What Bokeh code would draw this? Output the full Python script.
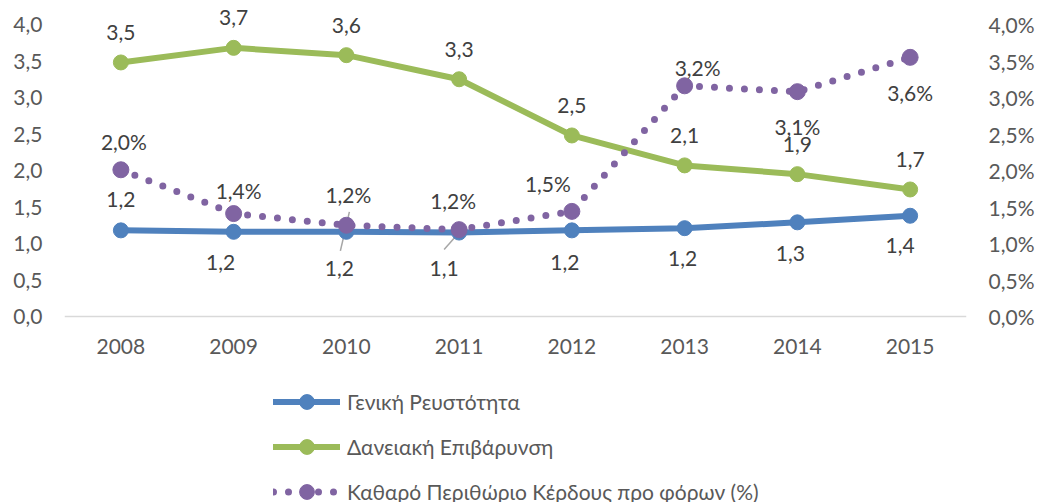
from bokeh.plotting import figure
from bokeh.models import (Range1d, LinearAxis, FixedTicker, CustomJSTickFormatter,
                          Legend, LegendItem, ColumnDataSource)
from bokeh.core.properties import value
from bokeh.embed import file_html
from bokeh.resources import INLINE

# ---------------- data ----------------
years = ["2008", "2009", "2010", "2011", "2012", "2013", "2014", "2015"]
liquidity = [1.18, 1.16, 1.16, 1.15, 1.18, 1.21, 1.29, 1.38]
liquidity_labels = ["1,2", "1,2", "1,2", "1,1", "1,2", "1,2", "1,3", "1,4"]
leverage = [3.48, 3.68, 3.58, 3.25, 2.48, 2.07, 1.95, 1.74]
leverage_labels = ["3,5", "3,7", "3,6", "3,3", "2,5", "2,1", "1,9", "1,7"]
margin = [2.01, 1.41, 1.25, 1.19, 1.44, 3.16, 3.08, 3.55]
margin_labels = ["2,0%", "1,4%", "1,2%", "1,2%", "1,5%", "3,2%", "3,1%", "3,6%"]
y_ticks = [0, 0.5, 1, 1.5, 2, 2.5, 3, 3.5, 4]

names = ["Γενική Ρευστότητα", "Δανειακή Επιβάρυνση",
         "Καθαρό Περιθώριο Κέρδους προ φόρων (%)"]

# ---------------- styles / layout ----------------
BLUE, GREEN, PURPLE = "#4F81BD", "#9BBB59", "#8064A2"
FONT = "Lato"
FS = "21px"
TICK_COLOR = "#595959"
LABEL_COLOR = "#404040"

W, H = 1038, 502
LEFT, RIGHT = 64, 72
ZERO_Y, FOUR_Y = 316, 24            # pixel rows of value 0 and 4
PX_PER_UNIT = (ZERO_Y - FOUR_Y) / 4.0
y_lo = -(H - ZERO_Y) / PX_PER_UNIT
y_hi = ZERO_Y / PX_PER_UNIT

# label offsets in screen px (x, y; positive y = down)
liq_off = [(0, -31), (-13, 31), (-7, 37), (-15, 36), (-7, 32), (-2, 30), (-7, 31), (-10, 30)]
lev_off = [(0, -30)] * 8
mar_off = [(3, -28), (5, -23), (2, -31), (-6, -29), (-24, -28), (13, -18), (0, 35), (0, 35)]

xs = list(range(len(years)))

p = figure(width=W, height=H, output_backend="svg", toolbar_location=None,
           x_range=Range1d(-0.5, len(years) - 0.5), y_range=Range1d(y_lo, y_hi),
           min_border_left=LEFT, min_border_right=RIGHT, min_border_top=0,
           min_border_bottom=0)
p.extra_y_ranges = {"pct": Range1d(y_lo, y_hi)}
p.outline_line_color = None
p.background_fill_color = "white"
p.border_fill_color = "white"
p.xgrid.visible = False
p.ygrid.visible = False

# axes
fmt_left = CustomJSTickFormatter(code="return tick.toFixed(1).replace('.', ',');")
fmt_right = CustomJSTickFormatter(code="return tick.toFixed(1).replace('.', ',') + '%';")

yl = p.yaxis[0]
yl.ticker = FixedTicker(ticks=y_ticks)
yl.formatter = fmt_left
ra = LinearAxis(y_range_name="pct", ticker=FixedTicker(ticks=y_ticks), formatter=fmt_right)
p.add_layout(ra, "right")
for ax in (yl, ra):
    ax.axis_line_color = None
    ax.major_tick_line_color = None
    ax.minor_tick_line_color = None
    ax.major_tick_out = 0
    ax.major_tick_in = 0
    ax.major_label_standoff = 22
    ax.major_label_text_font = FONT
    ax.major_label_text_font_size = FS
    ax.major_label_text_color = TICK_COLOR

xa = p.xaxis[0]
xa.fixed_location = 0
xa.ticker = FixedTicker(ticks=xs)
xa.major_label_overrides = {i: y for i, y in enumerate(years)}
xa.axis_line_color = "#D9D9D9"
xa.axis_line_width = 1.5
xa.major_tick_line_color = None
xa.minor_tick_line_color = None
xa.major_tick_out = 0
xa.major_tick_in = 0
xa.major_label_standoff = 22
xa.major_label_text_font = FONT
xa.major_label_text_font_size = FS
xa.major_label_text_color = TICK_COLOR

# leader lines (px offsets converted to data units)
PXX = 1 / ((W - LEFT - RIGHT) / len(years))
PXY = 1 / PX_PER_UNIT
p.segment(x0=[2 + 3 * PXX, 3], y0=[liquidity[2] + 20 * PXY, liquidity[3]],
          x1=[2 - 6 * PXX, 3 - 15 * PXX], y1=[liquidity[2] - 19 * PXY, liquidity[3] - 17 * PXY],
          line_color="#A6A6A6", line_width=1.5)

# series
l1 = p.line(xs, liquidity, line_color=BLUE, line_width=6, line_cap="round", line_join="round")
m1 = p.scatter(xs, liquidity, size=15, fill_color=BLUE, line_color=BLUE)
l2 = p.line(xs, leverage, line_color=GREEN, line_width=6, line_cap="round", line_join="round")
m2 = p.scatter(xs, leverage, size=15, fill_color=GREEN, line_color=GREEN)
l3 = p.line(xs, margin, y_range_name="pct", line_color=PURPLE, line_width=7,
            line_dash="0 15", line_cap="round")
m3 = p.scatter(xs, margin, y_range_name="pct", size=16, fill_color=PURPLE, line_color=PURPLE)

# data labels
def add_labels(vals, texts, offs, rng="default"):
    src = ColumnDataSource(dict(x=xs, y=vals, t=texts,
                                xo=[o[0] for o in offs], yo=[o[1] for o in offs]))
    kw = {} if rng == "default" else {"y_range_name": rng}
    p.text(x="x", y="y", text="t", x_offset="xo", y_offset="yo", source=src,
           text_font=value(FONT), text_font_size=FS, text_color=LABEL_COLOR,
           text_align="center", text_baseline="middle", **kw)

add_labels(leverage, leverage_labels, lev_off)
add_labels(liquidity, liquidity_labels, liq_off)
add_labels(margin, margin_labels, mar_off, "pct")

GLYPH_H, SPACING = 37, 8
legend_h = 3 * GLYPH_H + 2 * SPACING
first_row_y = 401
legend_bottom = first_row_y - GLYPH_H / 2 + legend_h
legend = Legend(items=[LegendItem(label=names[0], renderers=[l1, m1]),
                       LegendItem(label=names[1], renderers=[l2, m2]),
                       LegendItem(label=names[2], renderers=[l3, m3])],
                location=(273 - LEFT, H - legend_bottom), orientation="vertical",
                glyph_width=67, glyph_height=GLYPH_H, label_height=GLYPH_H, spacing=SPACING,
                label_standoff=7, padding=0, margin=0,
                border_line_color=None, background_fill_alpha=0,
                label_text_font=FONT, label_text_font_size=FS,
                label_text_color=TICK_COLOR)
p.add_layout(legend, "center")

open("out.html", "w").write(file_html(p, INLINE))
